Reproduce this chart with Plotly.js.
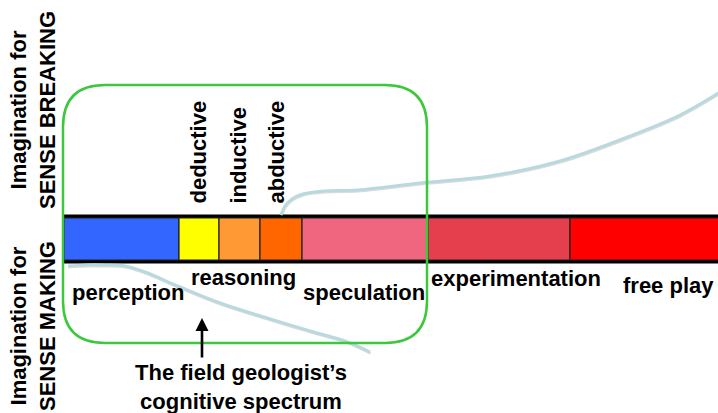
<!DOCTYPE html>
<html>
<head>
<meta charset="utf-8">
<script src="https://cdn.plot.ly/plotly-3.0.1.min.js"></script>
<style>html,body{margin:0;padding:0;background:#fff;}#chart{width:718px;height:413px;}</style>
</head>
<body>
<div id="chart"></div>
<script>
// Spectrum segments (x start / end in pixel-like units of the diagram)
const segNames  = ["perception", "deductive", "inductive", "abductive", "speculation", "experimentation", "free play"];
const segStart  = [64, 179, 219, 260, 302, 428, 570];
const segEnd    = [179, 219, 260, 302, 428, 570, 722];
const segColors = ["#3366FF", "#FFFF00", "#FF9933", "#FF6600", "#F0667E", "#E53E4C", "#FF0000"];

// Horizontal labels under the bar
const lowLabels = ["perception", "reasoning", "speculation", "experimentation", "free play"];
const lowX      = [128, 243, 364, 516, 668];
const lowY      = [292, 277, 292, 278, 285];

// Vertical reasoning labels above the bar
const vertLabels = ["deductive", "inductive", "abductive"];
const vertX      = [198, 238, 276];

// Connector curves
const upperCurveX = [281, 285, 292, 303, 325, 358, 420, 490, 560, 630, 680, 720];
const upperCurveY = [215, 206, 199, 194, 191, 190, 183, 176, 161, 136, 115, 92];
const lowerCurveX = [68, 85, 105, 125, 145, 180, 220, 267, 317, 345, 370];
const lowerCurveY = [266, 265, 265, 266, 272, 287, 303, 318, 333, 341, 352];

const FONT = "Liberation Sans, Arial, Helvetica, sans-serif";
const FS = 22;

const traces = [];
// Black frame of the bar
traces.push({type: "bar", orientation: "h", y: [239], x: [700], base: [62], width: 49,
  marker: {color: "#000000", line: {width: 0}}, hoverinfo: "skip", showlegend: false});
// Colored segments
traces.push({type: "bar", orientation: "h",
  y: segNames.map(() => 239), x: segEnd.map((e, i) => e - segStart[i]), base: segStart, width: 42,
  marker: {color: segColors, line: {color: "#222222", width: 1.2}}, hoverinfo: "skip", showlegend: false});

// Curve shadows and curves
function curve(xs, ys, dx, dy, color, w) {
  return {type: "scatter", mode: "lines", x: xs.map(v => v + dx), y: ys.map(v => v + dy),
    line: {color: color, width: w, shape: "spline", smoothing: 1}, hoverinfo: "skip", showlegend: false};
}
traces.push(curve(upperCurveX, upperCurveY, 0.6, 1.3, "rgba(110,110,110,0.25)", 2.5));
traces.push(curve(upperCurveX, upperCurveY, 0, 0, "#B8DADE", 3));
traces.push(curve(lowerCurveX, lowerCurveY, 0.6, 1.3, "rgba(110,110,110,0.25)", 2.5));
traces.push(curve(lowerCurveX, lowerCurveY, 0, 0, "#B8DADE", 3));

const annotations = [];
lowLabels.forEach((t, i) => annotations.push({x: lowX[i], y: lowY[i], xref: "x", yref: "y",
  text: "<b>" + t + "</b>", showarrow: false, xanchor: "center", yanchor: "middle",
  font: {family: FONT, size: FS, color: "#000"}}));
vertLabels.forEach((t, i) => annotations.push({x: vertX[i], y: 206, xref: "x", yref: "y",
  text: "<b>" + t + "</b>", showarrow: false, textangle: -90, xanchor: "center", yanchor: "bottom",
  font: {family: FONT, size: FS, color: "#000"}}));
// Side labels
annotations.push({x: 33, y: 110, xref: "x", yref: "y", text: "<b>Imagination for<br>SENSE BREAKING</b>",
  showarrow: false, textangle: -90, xanchor: "center", yanchor: "middle",
  font: {family: FONT, size: FS, color: "#000"}});
annotations.push({x: 33, y: 326, xref: "x", yref: "y", text: "<b>Imagination for<br>SENSE MAKING</b>",
  showarrow: false, textangle: -90, xanchor: "center", yanchor: "middle",
  font: {family: FONT, size: FS, color: "#000"}});
// Caption
annotations.push({x: 241, y: 387, xref: "x", yref: "y", text: "<b>The field geologist’s<br>cognitive spectrum</b>",
  showarrow: false, xanchor: "center", yanchor: "middle",
  font: {family: FONT, size: FS, color: "#000"}});
// Arrow
annotations.push({x: 202, y: 318, ax: 202, ay: 359, xref: "x", yref: "y", axref: "x", ayref: "y",
  text: "", showarrow: true, arrowhead: 2, arrowsize: 1, arrowwidth: 2.6, arrowcolor: "#000"});

// Rounded rectangle
const L = 63, R = 427, T = 85, B = 343, r = 42;
const rectPath = `M ${L + r} ${T} L ${R - r} ${T} Q ${R} ${T} ${R} ${T + r} L ${R} ${B - r} Q ${R} ${B} ${R - r} ${B} ` +
  `L ${L + r} ${B} Q ${L} ${B} ${L} ${B - r} L ${L} ${T + r} Q ${L} ${T} ${L + r} ${T} Z`;

const layout = {
  width: 718, height: 413,
  margin: {l: 0, r: 0, t: 0, b: 0},
  paper_bgcolor: "#ffffff", plot_bgcolor: "#ffffff",
  barmode: "overlay",
  xaxis: {range: [0, 718], visible: false, fixedrange: true},
  yaxis: {range: [413, 0], visible: false, fixedrange: true},
  showlegend: false,
  annotations: annotations,
  shapes: [{type: "path", path: rectPath, xref: "x", yref: "y", layer: "above",
    line: {color: "#3CC83C", width: 2.5}, fillcolor: "rgba(0,0,0,0)"}]
};

Plotly.newPlot("chart", traces, layout, {staticPlot: true, displayModeBar: false});
</script>
</body>
</html>
